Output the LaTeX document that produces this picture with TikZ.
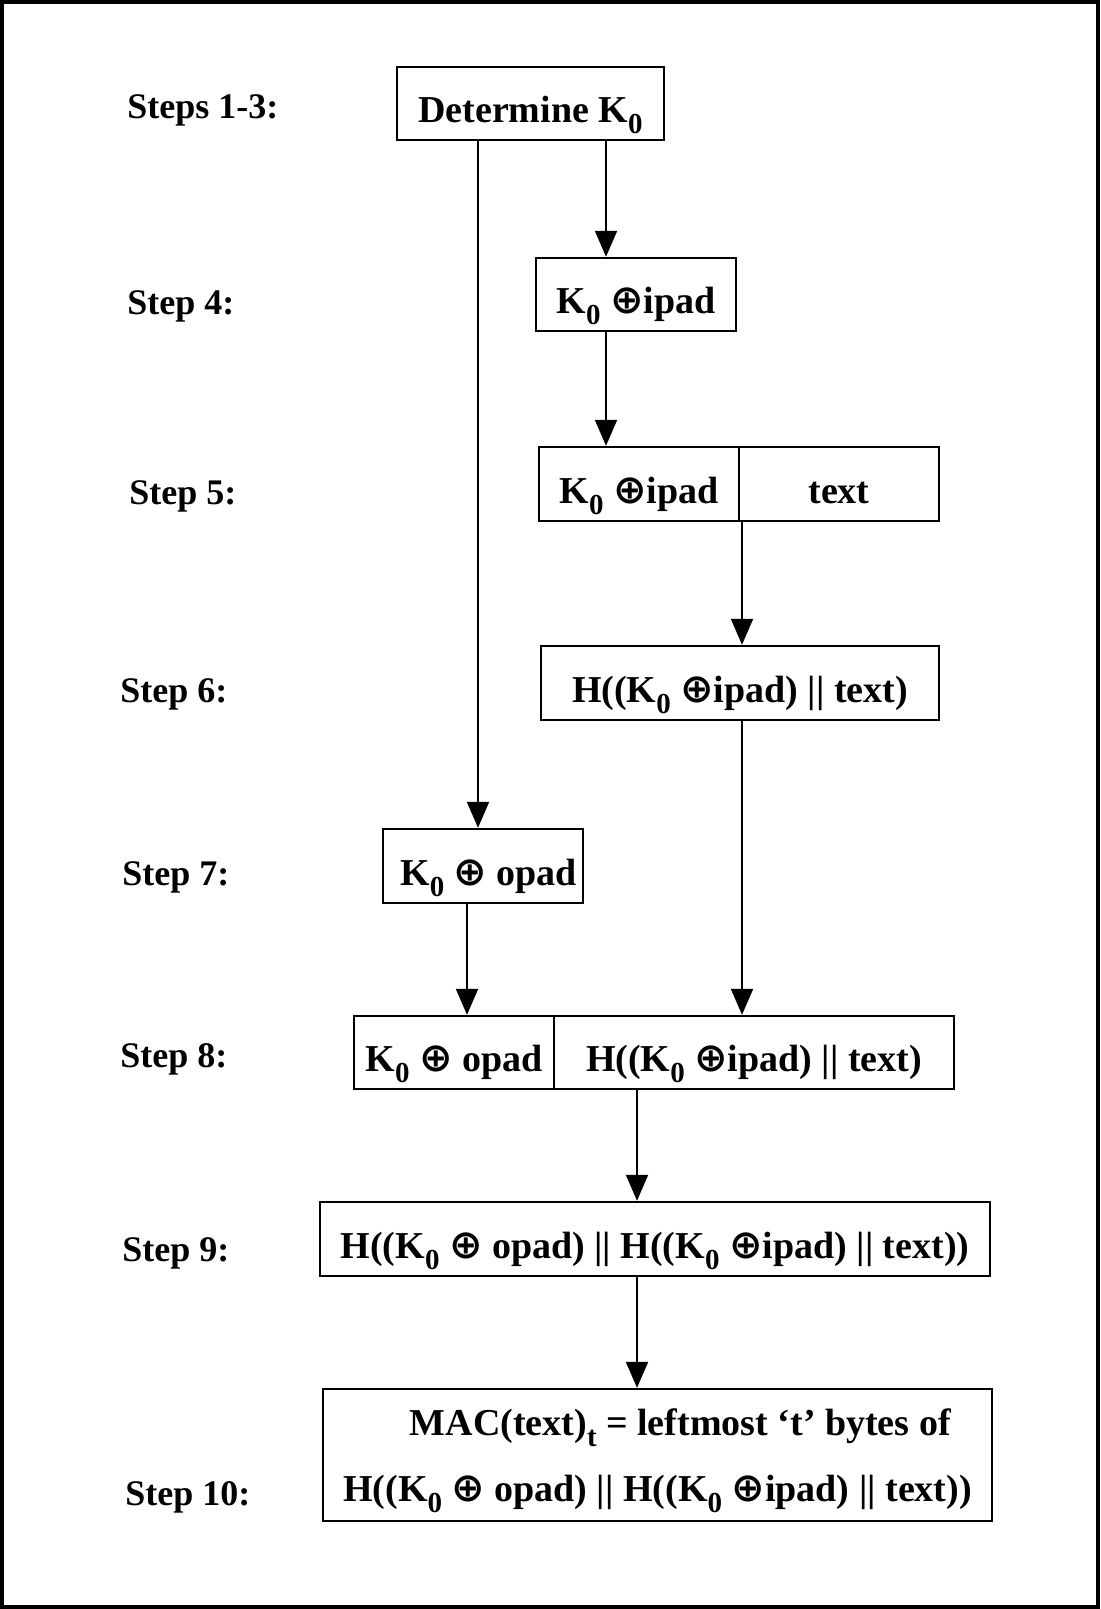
\documentclass[tikz,border=0pt]{standalone}
\usepackage{fontspec}
\setmainfont{Liberation Serif}
\newfontfamily\symfont{DejaVu Sans}
\usetikzlibrary{arrows.meta,positioning}
\newcommand{\ox}{{\symfont\fontsize{20}{20}\selectfont ⊕}}
\newcommand{\subidx}[1]{\raisebox{-0.3em}{\fontsize{14.5}{14.5}\selectfont #1}}
\tikzset{
  box/.style={draw, line width=1.2pt, inner sep=0pt, minimum height=36.5pt,
    text height=19pt, text depth=0pt,
    font=\fontsize{19}{33}\selectfont\bfseries},
  steplabel/.style={anchor=base west, inner sep=0pt, font=\fontsize{18}{18}\selectfont\bfseries},
  flow/.style={line width=1pt, -{Triangle[length=13pt,width=11pt]}},
}

\begin{document}
\begin{tikzpicture}[x=0.5pt,y=-0.5pt]
\useasboundingbox (0,0) rectangle (1100,1609);
\draw[line width=2pt] (2,2) rectangle (1098,1607);

% boxes
\node[box, minimum width=133.5pt] (k0) at (530.5,103.5) {Determine K\subidx{0}};
\node[box, minimum width=100pt] (ipad4) at (636,294.5) {K\subidx{0} \ox ipad};
\node[box, minimum width=100pt, minimum height=37pt] (ipad5) at (639,484) {K\subidx{0} \ox ipad};
\node[box, minimum width=100pt, minimum height=37pt] (text5) at (839,484) {text};
\node[box, minimum width=199pt, minimum height=37pt] (hin6) at (740,683) {H((K\subidx{0} \ox ipad) || text)};
\node[box, minimum width=100pt, minimum height=37pt] (opad7) at (483,866) {\hspace*{0.3em}K\subidx{0} \ox{} opad};
\node[box, minimum width=100pt] (opad8) at (454,1052.5) {K\subidx{0} \ox{} opad};
\node[box, minimum width=200pt] (hin8) at (754,1052.5) {H((K\subidx{0} \ox ipad) || text)};
\node[box, minimum width=335pt, minimum height=37pt] (hout9) at (655,1239)
  {H((K\subidx{0} \ox{} opad) || H((K\subidx{0} \ox ipad) || text))};
\node[box, minimum width=334.5pt, minimum height=66pt, align=center,
  text height=, text depth=0pt] (mac10) at (657.5,1455)
  {\hspace*{1.2em}MAC(text)\subidx{t} = leftmost ‘t’ bytes of\\
   H((K\subidx{0} \ox{} opad) || H((K\subidx{0} \ox ipad) || text))};

% step labels
\node[steplabel] (s13) at (127,119) {Steps 1-3:};
\node[steplabel] (s4) at (127,315) {Step 4:};
\node[steplabel] (s5) at (129,504) {Step 5:};
\node[steplabel] (s6) at (120,702) {Step 6:};
\node[steplabel] (s7) at (122,885) {Step 7:};
\node[steplabel] (s8) at (120,1067) {Step 8:};
\node[steplabel] (s9) at (122,1261) {Step 9:};
\node[steplabel] (s10) at (125,1505) {Step 10:};

% arrows
\draw[flow] (k0.south -| 606,0) -- (ipad4.north -| 606,0);
\draw[flow] (k0.south -| 478,0) -- (opad7.north -| 478,0);
\draw[flow] (ipad4.south -| 606,0) -- (ipad5.north -| 606,0);
\draw[flow] (ipad5.south -| 742,0) -- (hin6.north -| 742,0);
\draw[flow] (hin6.south -| 742,0) -- (hin8.north -| 742,0);
\draw[flow] (opad7.south -| 467,0) -- (opad8.north -| 467,0);
\draw[flow] (hin8.south -| 637,0) -- (hout9.north -| 637,0);
\draw[flow] (hout9.south -| 637,0) -- (mac10.north -| 637,0);
\end{tikzpicture}
\end{document}
